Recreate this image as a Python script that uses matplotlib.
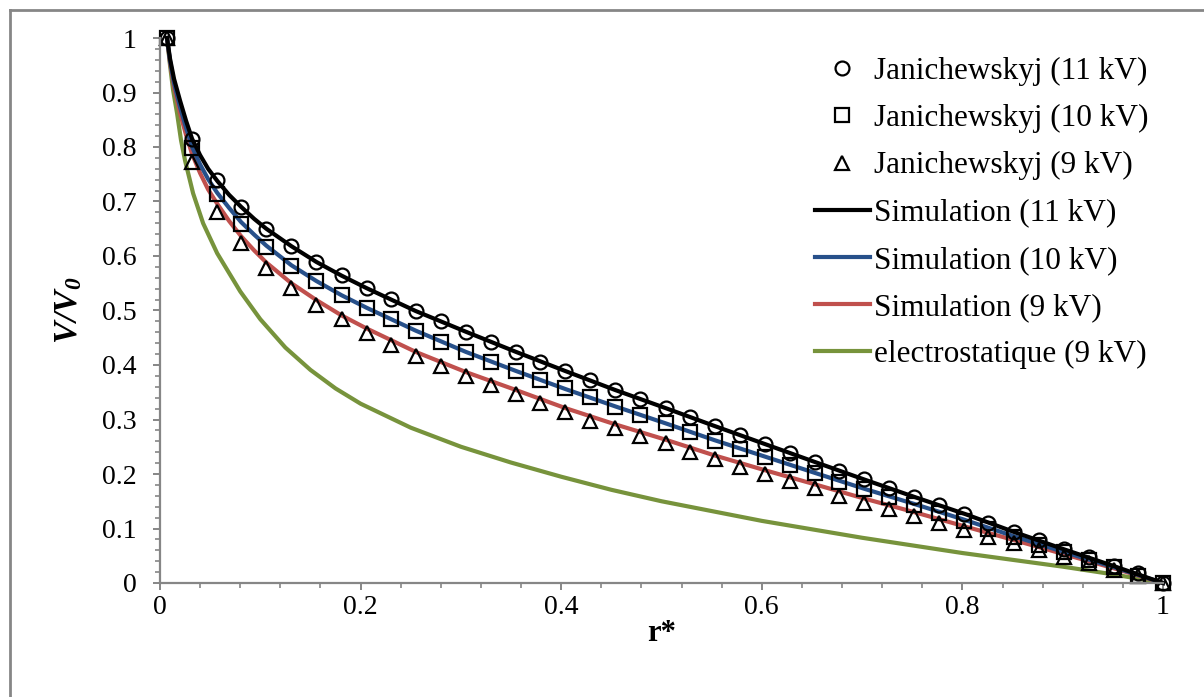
## V/V0 PROFILE VERSUS r* : JANICHEWSKYJ MEASUREMENTS, SIMULATIONS AND ELECTROSTATIC SOLUTION

## LOADING THE LIBRARIES:
import numpy as np
import matplotlib
matplotlib.use('Agg')
import matplotlib.pyplot as plt
from matplotlib.lines import Line2D
from matplotlib.ticker import MultipleLocator

plt.rcParams['font.family'] = ['Liberation Serif', 'DejaVu Serif']
plt.rcParams['mathtext.fontset'] = 'custom'
plt.rcParams['mathtext.rm'] = 'Liberation Serif'
plt.rcParams['mathtext.it'] = 'Liberation Serif:italic'
plt.rcParams['mathtext.bf'] = 'Liberation Serif:bold'
plt.rcParams['mathtext.bfit'] = 'Liberation Serif:italic:bold'

## DATA:
r_exp = [0.007, 0.032, 0.057, 0.081, 0.106, 0.131, 0.156, 0.181, 0.206, 0.230,
         0.255, 0.280, 0.305, 0.330, 0.355, 0.379, 0.404, 0.429, 0.454, 0.479,
         0.504, 0.528, 0.553, 0.578, 0.603, 0.628, 0.653, 0.677, 0.702, 0.727,
         0.752, 0.777, 0.802, 0.826, 0.851, 0.876, 0.901, 0.926, 0.951, 0.975, 1.0]

jan_11kv = [1.0, 0.815, 0.740, 0.690, 0.650, 0.618, 0.589, 0.565, 0.541, 0.521,
            0.499, 0.481, 0.461, 0.442, 0.424, 0.406, 0.389, 0.372, 0.354, 0.338,
            0.321, 0.305, 0.288, 0.272, 0.255, 0.239, 0.222, 0.206, 0.190, 0.175,
            0.158, 0.143, 0.127, 0.110, 0.094, 0.079, 0.062, 0.048, 0.031, 0.018, 0.0]

jan_10kv = [1.0, 0.798, 0.714, 0.659, 0.617, 0.582, 0.554, 0.528, 0.505, 0.484,
            0.462, 0.442, 0.424, 0.406, 0.389, 0.372, 0.357, 0.341, 0.323, 0.308,
            0.293, 0.277, 0.261, 0.246, 0.231, 0.216, 0.202, 0.186, 0.172, 0.158,
            0.143, 0.129, 0.114, 0.099, 0.084, 0.070, 0.057, 0.042, 0.029, 0.013, 0.0]

jan_9kv = [1.0, 0.772, 0.681, 0.623, 0.578, 0.541, 0.510, 0.484, 0.459, 0.437,
           0.417, 0.398, 0.380, 0.363, 0.347, 0.330, 0.314, 0.297, 0.284, 0.270,
           0.256, 0.240, 0.227, 0.213, 0.200, 0.187, 0.174, 0.160, 0.147, 0.136,
           0.123, 0.110, 0.097, 0.084, 0.073, 0.060, 0.048, 0.037, 0.024, 0.013, 0.0]

r_sim = [0.007, 0.010, 0.014, 0.020, 0.026, 0.032, 0.040, 0.048, 0.057, 0.069,
         0.081, 0.094, 0.106, 0.131, 0.156, 0.181, 0.206, 0.255, 0.305, 0.355,
         0.404, 0.454, 0.504, 0.553, 0.603, 0.653, 0.702, 0.752, 0.802, 0.851,
         0.901, 0.951, 1.0]

sim_11kv = [1.0, 0.962, 0.925, 0.885, 0.848, 0.815, 0.785, 0.760, 0.738, 0.712,
            0.690, 0.668, 0.650, 0.618, 0.589, 0.564, 0.541, 0.499, 0.461, 0.424,
            0.389, 0.354, 0.321, 0.288, 0.255, 0.222, 0.190, 0.158, 0.127, 0.094,
            0.062, 0.031, 0.0]

sim_10kv = [1.0, 0.958, 0.917, 0.873, 0.835, 0.800, 0.768, 0.741, 0.716, 0.688,
            0.662, 0.639, 0.619, 0.583, 0.554, 0.528, 0.505, 0.463, 0.424, 0.389,
            0.356, 0.324, 0.293, 0.262, 0.232, 0.202, 0.173, 0.145, 0.116, 0.086,
            0.057, 0.029, 0.0]

sim_9kv = [1.0, 0.955, 0.910, 0.862, 0.822, 0.787, 0.752, 0.722, 0.696, 0.664,
           0.636, 0.610, 0.588, 0.550, 0.519, 0.491, 0.467, 0.424, 0.387, 0.354,
           0.321, 0.291, 0.263, 0.234, 0.207, 0.181, 0.155, 0.130, 0.104, 0.079,
           0.053, 0.027, 0.0]

r_elec = [0.007, 0.010, 0.013, 0.017, 0.021, 0.025, 0.033, 0.043, 0.057, 0.080,
          0.100, 0.125, 0.150, 0.175, 0.200, 0.250, 0.300, 0.350, 0.400, 0.450,
          0.500, 0.600, 0.700, 0.800, 0.900, 0.950, 1.0]
elec_9kv = [1.0, 0.950, 0.905, 0.862, 0.812, 0.775, 0.715, 0.660, 0.605, 0.535,
            0.484, 0.432, 0.391, 0.357, 0.329, 0.285, 0.250, 0.221, 0.195, 0.171,
            0.150, 0.114, 0.083, 0.055, 0.030, 0.016, 0.0]

labels = ['Janichewskyj (11 kV)', 'Janichewskyj (10 kV)', 'Janichewskyj (9 kV)',
          'Simulation (11 kV)', 'Simulation (10 kV)', 'Simulation (9 kV)',
          'electrostatique (9 kV)']

## PLOTTING THE RESULTS:
fig = plt.figure(figsize=(12.04, 6.97), dpi=100)
ax = fig.add_axes([160/1204, 1 - 583/697, (1163 - 160)/1204, (583 - 38)/697])

grey = '#868686'

l_elec, = ax.plot(r_elec, elec_9kv, color='#77933C', lw=3, clip_on=False)
l_9, = ax.plot(r_sim, sim_9kv, color='#C0504D', lw=3, clip_on=False)
l_10, = ax.plot(r_sim, sim_10kv, color='#27508A', lw=3, clip_on=False)
l_11, = ax.plot(r_sim, sim_11kv, color='black', lw=3, clip_on=False)

m_11, = ax.plot(r_exp, jan_11kv, ls='none', marker='o', ms=10, mfc='none',
                mec='black', mew=1.6, clip_on=False)
m_10, = ax.plot(r_exp, jan_10kv, ls='none', marker='s', ms=10, mfc='none',
                mec='black', mew=1.6, clip_on=False)
m_9, = ax.plot(r_exp, jan_9kv, ls='none', marker='^', ms=10, mfc='none',
               mec='black', mew=1.6, clip_on=False)

ax.set_xlim(0, 1)
ax.set_ylim(0, 1)
ax.xaxis.set_major_locator(MultipleLocator(0.2))
ax.xaxis.set_minor_locator(MultipleLocator(0.04))
ax.yaxis.set_major_locator(MultipleLocator(0.1))
ax.yaxis.set_minor_locator(MultipleLocator(0.02))
ax.xaxis.set_major_formatter(lambda v, p: '%g' % round(v, 2))
ax.yaxis.set_major_formatter(lambda v, p: '%g' % round(v, 2))

for s in ['top', 'right']:
    ax.spines[s].set_visible(False)
for s in ['left', 'bottom']:
    ax.spines[s].set_color(grey)
    ax.spines[s].set_linewidth(1.6)

ax.tick_params(which='major', direction='out', length=5, width=1.4, color=grey,
               labelsize=20)
ax.tick_params(axis='y', which='major', pad=12)
ax.tick_params(axis='x', which='major', pad=4)
ax.tick_params(which='minor', direction='out', length=3.5, width=1.2, color=grey)

ax.set_xlabel('r*', fontsize=22, fontweight='bold', labelpad=-1)
ax.set_ylabel(r'$\mathbfit{V/V}_{\mathbfit{0}}$', fontsize=24, labelpad=13)

handles = [m_11, m_10, m_9, l_11, l_10, l_9, l_elec]
leg = ax.legend(handles, labels, loc='upper left', bbox_to_anchor=(815/1204, 1 - 57/697),
                bbox_transform=fig.transFigure, frameon=False, fontsize=22.5,
                handlelength=1.75, handletextpad=0.15, labelspacing=0.58,
                borderpad=0, borderaxespad=0)

## FIGURE FRAME:
fig.add_artist(Line2D([10/1204, 10/1204], [0, 1 - 10/697], color=grey, lw=2))
fig.add_artist(Line2D([10/1204, 1], [1 - 10/697, 1 - 10/697], color=grey, lw=2))

#SAVING
fig.savefig('out.png', dpi=100)
